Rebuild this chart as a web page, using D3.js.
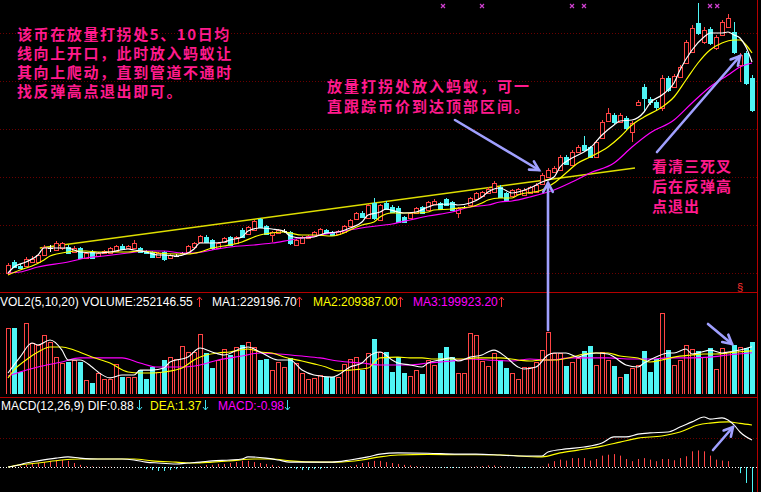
<!DOCTYPE html>
<html><head><meta charset="utf-8">
<script src="https://cdn.jsdelivr.net/npm/d3@7"></script>
<style>
html,body{margin:0;padding:0;background:#000;overflow:hidden;}
svg{display:block;}
</style></head>
<body><svg id="c" width="761" height="492"></svg>
<script>
// ---------- DATA ----------
const opens = [2.7,3.8,3.4,3.4,3.8,3.8,4.5,5.2,5.0,5.2,
5.3,4.8,5.2,4.2,4.8,4.4,4.7,4.7,4.9,5.4,
5.2,5.2,5.2,4.9,4.8,4.3,4.8,4.2,4.4,4.7,
4.8,5.3,5.8,6.3,6.0,5.2,5.8,6.3,5.7,7.0,
6.6,7.0,8.1,7.4,6.5,6.7,6.9,6.8,5.5,5.7,
6.2,6.4,6.5,7.0,6.8,6.6,6.8,7.4,8.1,8.7,
8.2,9.7,8.0,9.7,9.3,9.2,8.3,8.2,8.7,9.3,
9.0,9.6,9.7,10.1,9.8,8.7,9.3,9.5,10.1,10.4,
10.7,10.8,11.3,10.7,10.4,10.6,10.5,10.7,10.8,11.6,
12.3,12.8,13.0,14.3,13.5,14.8,15.5,15.3,14.3,16.2,
17.9,18.5,17.8,18.2,16.8,19.5,21.3,20.1,19.8,19.2,
22.2,21.3,22.3,23.7,24.8,27.7,25.8,27.1,25.2,26.5,
27.3,26.8,23.5,24.7,22.2];
const closes = [3.5,3.3,3.2,4.1,4.1,4.5,5.3,5.2,5.7,5.7,
4.7,5.2,4.2,4.7,4.2,4.7,4.9,5.2,5.4,5.1,
5.4,5.7,4.8,4.7,4.3,4.7,4.1,4.5,4.4,4.7,
5.4,5.7,6.4,5.8,5.2,5.7,6.2,5.5,6.3,6.3,
7.3,7.9,7.3,6.6,6.8,7.0,6.9,5.7,6.0,6.3,
6.4,6.8,7.1,6.7,6.5,6.9,7.4,8.0,8.7,8.3,
9.5,8.2,9.5,9.1,8.8,7.8,7.8,8.7,9.2,8.7,
9.8,9.9,9.1,9.5,9.0,9.2,9.3,10.2,10.7,10.8,
11.1,11.7,10.3,10.0,11.0,11.1,11.0,11.3,11.5,12.5,
13.0,13.2,14.3,13.6,14.8,15.3,15.0,14.3,15.8,17.8,
18.7,17.8,18.5,17.2,17.7,19.8,20.2,19.8,19.3,22.2,
21.0,22.4,23.3,25.8,27.2,26.7,27.0,25.7,26.3,27.8,
28.2,24.8,24.5,21.7,19.0];
const highs = [3.7,4.0,3.6,4.3,4.4,4.6,5.5,5.5,5.9,5.8,
5.5,5.4,5.3,4.8,5.0,4.8,5.0,5.3,5.5,5.6,
5.5,6.0,5.3,5.0,4.9,4.8,4.9,4.6,4.6,4.8,
5.5,5.8,6.5,6.5,6.1,5.8,6.3,6.4,6.4,7.2,
7.4,8.0,8.2,7.5,6.9,7.1,7.1,6.9,6.1,6.4,
6.5,6.9,7.2,7.1,6.9,7.0,7.5,8.1,8.8,8.9,
9.6,10.2,9.6,9.9,9.5,9.4,8.4,8.8,9.3,9.4,
9.9,10.1,9.8,10.2,9.9,9.3,9.4,10.3,10.8,10.9,
11.3,11.9,11.5,10.8,11.1,11.2,11.2,11.4,11.7,12.7,
13.2,13.4,14.5,14.5,15.0,15.5,16.4,15.4,16.0,18.0,
19.2,18.7,18.7,18.4,17.9,20.0,21.6,20.3,20.0,22.5,
22.4,22.6,23.5,26.0,27.5,29.7,27.3,27.3,26.5,28.0,
28.6,27.8,24.7,24.9,22.5];
const lows = [2.5,3.2,3.1,3.3,3.7,3.7,4.4,4.8,4.9,5.0,
4.6,4.7,4.1,4.1,4.1,4.3,4.6,4.6,4.8,5.0,
5.1,5.1,4.7,4.6,4.2,4.2,3.9,4.1,4.3,4.6,
4.7,5.2,5.7,5.7,5.0,5.1,5.7,5.4,5.6,6.2,
6.5,6.9,7.2,6.5,5.8,6.6,6.7,5.5,5.4,5.6,
6.1,6.3,6.4,6.6,6.4,6.5,6.7,7.3,8.0,8.2,
8.1,8.0,7.9,9.0,8.7,7.7,7.7,8.1,8.6,8.6,
8.9,9.5,9.0,9.4,8.9,8.2,9.1,9.4,10.0,10.3,
10.6,10.7,10.2,9.9,10.3,10.5,10.4,10.6,10.7,11.5,
12.2,12.7,12.9,13.5,13.4,14.7,14.9,14.2,14.2,16.1,
17.8,17.6,17.7,17.0,15.8,19.4,18.8,19.5,19.0,18.9,
20.8,21.2,22.2,23.6,24.7,26.5,25.6,25.5,25.0,26.4,
27.2,24.6,21.8,21.5,18.8];
// volume, thousands
const volumes = [320,320,107,344,247,238,286,252,179,150,
155,165,155,68,53,102,73,73,146,82,
82,82,116,73,131,107,165,179,170,233,
204,204,291,199,126,165,218,189,228,238,
252,228,165,170,116,155,131,175,150,102,
73,78,92,82,82,82,146,170,179,116,
199,267,204,204,107,179,102,87,116,97,
165,141,199,228,179,102,102,296,286,160,
136,199,165,126,102,73,131,131,155,213,
301,199,199,136,155,175,209,233,141,204,
165,136,82,97,126,141,209,107,170,393,
213,141,165,238,218,209,179,223,121,223,
204,238,228,223,252];
// MACD histogram
const macdHist = [0,0.02,0.04,0.07,0.10,0.13,0.16,0.20,0.23,0.23,
0.20,0.13,0.07,0.03,0.02,0.01,0.01,0.01,0,0,
0,0,-0.03,-0.07,-0.10,-0.13,-0.13,-0.10,-0.07,-0.03,
-0.01,0.01,0.03,0.07,0.07,0.10,0.10,0.13,0.16,0.20,
0.20,0.16,0.13,0.10,0.07,0.03,0.01,-0.03,-0.07,-0.10,
-0.10,-0.07,-0.07,-0.03,-0.01,0,0.01,0.03,0.07,0.13,
0.16,0.20,0.20,0.16,0.13,0.10,0.07,0.05,0.03,0.02,
0.01,0,-0.02,-0.03,-0.03,-0.02,-0.01,0.01,0.02,0.03,
0.05,0.05,0.03,0.01,0,-0.02,-0.03,-0.02,-0.01,0.02,
0.11,0.19,0.24,0.21,0.29,0.29,0.29,0.21,0.26,0.37,
0.40,0.42,0.37,0.26,0.19,0.26,0.29,0.24,0.19,0.26,
0.26,0.22,0.29,0.35,0.51,0.54,0.51,0.37,0.24,0.21,
0.19,0,-0.20,-0.52,-0.98];
// price moving averages, [candle index, value]
const ma5 = [[0,2.7],[1,3.3],[3,3.8],[5,4.5],[6,5.2],[8,5.2],[10,5.2],[11,5.0],[12,4.8],[15,4.7],[17,4.8],[20,5.1],[21,5.0],[23,4.8],[25,4.5],[26,4.5],[28,4.4],[30,4.7],[31,5.1],[32,5.7],[34,5.7],[36,5.8],[37,6.0],[39,6.3],[40,6.9],[42,7.2],[44,7.1],[46,6.9],[47,6.4],[49,6.2],[51,6.3],[53,6.7],[55,6.8],[57,7.2],[59,7.8],[60,8.5],[62,8.8],[63,9.1],[65,8.8],[66,8.7],[68,8.8],[70,9.3],[71,9.5],[74,9.6],[75,9.5],[77,9.7],[79,10.3],[80,10.8],[82,11.2],[84,10.7],[85,10.8],[87,11.2],[89,11.8],[91,12.3],[92,13.3],[94,14.2],[96,14.8],[97,15.2],[99,16.5],[101,17.5],[102,17.9],[104,18.0],[106,18.8],[107,19.7],[109,20.5],[111,21.7],[112,23.0],[114,25.0],[116,26.3],[117,26.7],[119,26.7],[120,26.8],[121,26.5],[122,26.2],[123,25.3],[124,23.8]];
const ma10 = [[0,2.5],[2,3.0],[4,3.4],[6,4.0],[7,4.4],[10,4.8],[11,4.9],[13,4.9],[15,4.8],[17,4.8],[20,4.8],[22,4.9],[24,4.8],[25,4.7],[28,4.6],[30,4.6],[32,4.8],[34,5.2],[36,5.4],[39,5.8],[41,6.3],[42,6.5],[44,6.7],[46,6.8],[47,6.7],[49,6.5],[51,6.5],[54,6.4],[56,6.7],[57,7.0],[59,7.5],[61,7.8],[62,8.3],[64,8.7],[66,8.7],[68,8.7],[70,8.8],[71,9.0],[74,9.1],[75,9.2],[77,9.3],[79,9.7],[80,10.0],[82,10.2],[84,10.2],[85,10.5],[89,11.0],[91,11.7],[93,12.7],[95,13.7],[97,14.3],[100,15.3],[102,16.3],[104,17.5],[106,18.3],[109,19.3],[111,20.3],[113,22.0],[115,23.7],[117,25.0],[119,25.7],[121,26.0],[122,26.0],[123,25.5],[124,24.7]];
const ma20 = [[0,2.7],[2,2.8],[5,3.3],[10,3.8],[13,4.2],[16,4.4],[20,4.7],[23,4.9],[26,4.9],[29,4.7],[31,4.7],[34,5.0],[37,5.3],[41,5.5],[44,5.7],[47,6.0],[50,6.3],[54,6.7],[57,7.0],[60,7.3],[64,7.6],[67,8.0],[70,8.4],[74,8.8],[77,9.3],[80,9.5],[82,9.8],[84,9.9],[87,10.3],[91,11.0],[94,11.8],[97,12.7],[101,13.7],[104,15.3],[107,16.7],[111,18.0],[114,19.7],[117,21.3],[120,22.5],[122,23.3],[124,23.7]];
// trend line [index, price]
const trendLine = [[5.3,5.2],[104.5,13.2]];
// volume moving averages
const vma5 = [[0,102],[2,179],[4,247],[5,238],[7,262],[9,213],[10,165],[12,165],[14,131],[15,107],[17,78],[19,92],[21,92],[22,116],[24,116],[26,126],[27,155],[30,179],[32,223],[34,204],[36,189],[39,223],[40,228],[42,204],[45,165],[47,165],[49,116],[51,92],[54,82],[55,92],[57,131],[59,150],[60,179],[62,204],[64,165],[65,150],[67,141],[69,131],[70,150],[72,165],[74,175],[75,160],[77,179],[79,189],[80,204],[81,213],[83,179],[85,131],[86,121],[88,131],[90,189],[91,199],[93,199],[95,179],[96,189],[98,199],[100,194],[101,179],[103,141],[105,131],[106,150],[108,179],[110,199],[111,199],[113,218],[114,194],[115,199],[117,213],[119,199],[120,204],[122,213],[124,229]];
const vma10 = [[0,78],[1,116],[3,165],[5,204],[7,228],[9,228],[11,213],[14,179],[17,150],[20,107],[22,102],[24,102],[26,107],[29,126],[31,165],[33,189],[35,199],[37,204],[40,218],[42,204],[44,199],[46,179],[49,160],[51,146],[53,131],[55,112],[57,116],[60,126],[62,175],[65,179],[67,175],[69,175],[71,170],[74,170],[76,170],[78,175],[80,175],[82,175],[85,165],[87,160],[89,165],[91,165],[94,179],[96,194],[98,199],[100,199],[102,184],[105,175],[107,155],[109,165],[111,179],[114,189],[116,194],[118,194],[120,199],[122,205],[124,209]];
const vma20 = [[0,87],[2,107],[5,131],[9,155],[12,175],[15,175],[19,175],[22,150],[25,131],[29,131],[32,141],[35,165],[39,184],[42,199],[45,194],[49,184],[52,175],[55,160],[59,150],[62,141],[67,141],[70,150],[74,160],[77,170],[80,165],[84,160],[87,170],[90,165],[94,175],[97,175],[100,175],[104,170],[107,170],[110,175],[114,175],[117,179],[120,189],[124,200]];
// MACD lines
const dif = [[0,0],[1,0.03],[3,0.13],[5,0.20],[8,0.29],[10,0.33],[12,0.29],[15,0.26],[19,0.26],[21,0.23],[23,0.16],[25,0.13],[28,0.10],[30,0.13],[32,0.16],[34,0.20],[37,0.23],[39,0.26],[40,0.33],[43,0.29],[45,0.23],[47,0.16],[51,0.16],[54,0.16],[57,0.23],[60,0.33],[62,0.42],[65,0.46],[70,0.45],[75,0.42],[78,0.42],[82,0.39],[85,0.36],[89,0.36],[90,0.49],[93,0.59],[96,0.65],[99,0.78],[101,0.98],[103,0.98],[105,1.07],[107,1.11],[110,1.14],[112,1.30],[114,1.47],[116,1.63],[117,1.56],[119,1.60],[120,1.53],[121,1.37],[122,1.14],[124,0.88]];
const dea = [[0,0],[2,0.07],[5,0.13],[9,0.23],[12,0.26],[15,0.26],[21,0.26],[24,0.20],[28,0.16],[31,0.13],[34,0.16],[37,0.20],[41,0.26],[44,0.26],[47,0.20],[52,0.16],[55,0.16],[59,0.23],[62,0.33],[65,0.39],[70,0.41],[75,0.40],[82,0.39],[89,0.33],[92,0.46],[95,0.55],[99,0.68],[102,0.81],[105,0.94],[109,1.01],[112,1.14],[115,1.37],[117,1.43],[120,1.47],[121,1.45],[122,1.42],[124,1.37]];
// label texts
const volLabels = [{t:"VOL2(5,10,20) VOLUME:252146.55",c:"#ffffff",x:0,a:199},{t:"MA1:229196.70",c:"#ffffff",x:212,a:299},{t:"MA2:209387.00",c:"#ffff00",x:313,a:400},{t:"MA3:199923.20",c:"#ff00ff",x:413,a:501}];
const macdLabels = [{t:"MACD(12,26,9) DIF:0.88",c:"#ffffff",x:1,a:139},{t:"DEA:1.37",c:"#ffff00",x:150,a:205},{t:"MACD:-0.98",c:"#ff00ff",x:218,a:287}];
const note1 = ["该币在放量打拐处5、10日均","线向上开口，此时放入蚂蚁让","其向上爬动，直到管道不通时","找反弹高点退出即可。"];
const note2 = ["放量打拐处放入蚂蚁，可一","直跟踪币价到达顶部区间。"];
const note3 = ["看清三死叉","后在反弹高","点退出"];
const crossMarks = [72.5,79,94,96,117,118.2];

// ---------- DRAW ----------
const RED = "#ff4444", CYAN = "#4ff5f5", LINE_RED = "#b40000";
const svg = d3.select("#c");
svg.append("rect").attr("width",761).attr("height",492).attr("fill","#000");
const N = opens.length;
const x = d3.scaleBand().domain(d3.range(N)).range([5,755]).padding(0);
const cx = i => Math.round(x(i) + x.bandwidth()/2);
const xl = d3.scaleLinear().domain([0,N-1]).range([cx(0), cx(N-1)]);
const yP = d3.scaleLinear().domain([0,30]).range([300,0]);
const yV = d3.scaleLinear().domain([0,485]).range([394,294]);
const yM = d3.scaleLinear().domain([0,1]).range([467,436.3]);

const defs = svg.append("defs");
function clip(id,x0,y0,w,h){defs.append("clipPath").attr("id",id).append("rect").attr("x",x0).attr("y",y0).attr("width",w).attr("height",h);}
clip("cMain",0,0,757,291);clip("cVol",0,293,757,101);clip("cMacd",0,398,757,94);

// grid lines
const gridG = svg.append("g").attr("stroke","#6a0000").attr("stroke-dasharray","1,2");
[33,81,129,177,225,273].forEach(v=>gridG.append("line").attr("x1",0).attr("x2",757).attr("y1",v+0.5).attr("y2",v+0.5));
[438].forEach(v=>gridG.append("line").attr("x1",0).attr("x2",757).attr("y1",v+0.5).attr("y2",v+0.5));
// panel separators
svg.append("line").attr("x1",0).attr("x2",757).attr("y1",292.5).attr("y2",292.5).attr("stroke",LINE_RED);
svg.append("line").attr("x1",0).attr("x2",757).attr("y1",397.5).attr("y2",397.5).attr("stroke",LINE_RED);
svg.append("line").attr("x1",757.5).attr("x2",757.5).attr("y1",0).attr("y2",492).attr("stroke",LINE_RED);

// main panel
const main = svg.append("g").attr("clip-path","url(#cMain)");
const lineGen = (xs,ys) => d3.line().x(d=>xs(d[0])).y(d=>ys(d[1])).curve(d3.curveMonotoneX);
main.append("path").datum(trendLine).attr("d",d3.line().x(d=>xl(d[0])).y(d=>yP(d[1]))).attr("fill","none").attr("stroke","#dede00").attr("stroke-width",1.4);

const cg = main.append("g");
d3.range(N).forEach(i=>{
  const o=opens[i],c=closes[i],h=highs[i],l=lows[i];
  const up=c>o, flat=c===o;
  const col = flat ? "#ffffff" : (up?RED:CYAN);
  const xc = cx(i)+0.5;
  cg.append("line").attr("x1",xc).attr("x2",xc).attr("y1",yP(h)).attr("y2",yP(l)).attr("stroke",col);
  if(flat){
    cg.append("line").attr("x1",xc-2.5).attr("x2",xc+2.5).attr("y1",Math.round(yP(o))+0.5).attr("y2",Math.round(yP(o))+0.5).attr("stroke",col);
  } else {
    const top=Math.round(yP(Math.max(o,c))), bot=Math.round(yP(Math.min(o,c)));
    cg.append("rect").attr("x",cx(i)-2+0.5).attr("y",top+0.5).attr("width",4).attr("height",Math.max(1,bot-top))
      .attr("fill",up?"#000":CYAN).attr("stroke",col);
  }
});
main.append("path").datum(ma20).attr("d",lineGen(xl,yP)).attr("fill","none").attr("stroke","#ff00ff").attr("stroke-width",1.2);
main.append("path").datum(ma10).attr("d",lineGen(xl,yP)).attr("fill","none").attr("stroke","#ffff00").attr("stroke-width",1.2);
main.append("path").datum(ma5).attr("d",lineGen(xl,yP)).attr("fill","none").attr("stroke","#ffffff").attr("stroke-width",1.2);

// cross marks at top
crossMarks.forEach(m=>{
  const xx=xl(m);
  main.append("path").attr("d",`M${xx-2},4L${xx+2},8M${xx+2},4L${xx-2},8`).attr("stroke","#d040d0").attr("stroke-width",1.2);
});
svg.append("text").attr("x",737).attr("y",291).attr("fill","#ff3030").attr("font-family","Liberation Sans, Arial").attr("font-size",11).text("§");

// volume panel
const vol = svg.append("g").attr("clip-path","url(#cVol)");
d3.range(N).forEach(i=>{
  const up = closes[i]>=opens[i];
  const top = Math.round(yV(volumes[i]));
  vol.append("rect").attr("x",cx(i)-2+0.5).attr("y",top+0.5).attr("width",4).attr("height",394-top)
    .attr("fill",up?"#000":CYAN).attr("stroke",up?RED:CYAN);
});
vol.append("path").datum(vma20).attr("d",lineGen(xl,yV)).attr("fill","none").attr("stroke","#ff00ff").attr("stroke-width",1.1);
vol.append("path").datum(vma10).attr("d",lineGen(xl,yV)).attr("fill","none").attr("stroke","#ffff00").attr("stroke-width",1.1);
vol.append("path").datum(vma5).attr("d",lineGen(xl,yV)).attr("fill","none").attr("stroke","#ffffff").attr("stroke-width",1.1);

// MACD panel
const mg = svg.append("g").attr("clip-path","url(#cMacd)");
mg.append("line").attr("x1",0).attr("x2",757).attr("y1",467.5).attr("y2",467.5).attr("stroke","#ffffff").attr("stroke-dasharray","1,2");
d3.range(N).forEach(i=>{
  const v=macdHist[i]; if(v===0) return;
  mg.append("line").attr("x1",cx(i)+0.5).attr("x2",cx(i)+0.5).attr("y1",yM(0)).attr("y2",yM(v)).attr("stroke",v>0?RED:CYAN);
});
mg.append("path").datum(dea).attr("d",lineGen(xl,yM)).attr("fill","none").attr("stroke","#ffff00").attr("stroke-width",1.1);
mg.append("path").datum(dif).attr("d",lineGen(xl,yM)).attr("fill","none").attr("stroke","#ffffff").attr("stroke-width",1.1);

// labels
const lf = "Liberation Sans, Arial, sans-serif";
volLabels.forEach(d=>{
  svg.append("text").attr("x",d.x).attr("y",306).attr("fill",d.c).attr("font-family",lf).attr("font-size",12).text(d.t);
  svg.append("path").attr("d",`M${d.a+0.5},307V297M${d.a-2},300L${d.a+0.5},297L${d.a+3},300`).attr("stroke","#ff3030").attr("fill","none");
});
macdLabels.forEach(d=>{
  svg.append("text").attr("x",d.x).attr("y",410).attr("fill",d.c).attr("font-family",lf).attr("font-size",12).text(d.t);
  svg.append("path").attr("d",`M${d.a+0.5},400V410M${d.a-2},407L${d.a+0.5},410L${d.a+3},407`).attr("stroke","#40e0f0").attr("fill","none");
});

// annotations
const cf = "'Noto Sans CJK SC', sans-serif";
const PINK = "#ff1a8c";
function note(lines,x0,y0,dy,ls){
  lines.forEach((t,k)=>svg.append("text").attr("x",x0).attr("y",y0+k*dy).attr("fill",PINK)
    .attr("font-family",cf).attr("font-size",15).attr("font-weight",700).attr("letter-spacing",ls).text(t));
}
note(note1,17,40,19,1.6);
note(note2,327,92,19.5,2);
note(note3,652,172,20,1);

// arrows
const AC = "#a0a0ff";
function arrow(x1,y1,x2,y2){
  const g=svg.append("g").attr("stroke",AC).attr("stroke-width",2.6).attr("fill","none").attr("stroke-linecap","round");
  g.append("line").attr("x1",x1).attr("y1",y1).attr("x2",x2).attr("y2",y2);
  const ang=Math.atan2(y2-y1,x2-x1), L=10, w=0.5;
  const p1=[x2-L*Math.cos(ang-w),y2-L*Math.sin(ang-w)], p2=[x2-L*Math.cos(ang+w),y2-L*Math.sin(ang+w)];
  g.append("path").attr("d",`M${p1}L${x2},${y2}L${p2}`);
}
arrow(455,120,539,170);
arrow(548,330,548,183);
arrow(657,152,740,56);
arrow(708,324,732,344);
arrow(713,450,733,427);
</script></body></html>
